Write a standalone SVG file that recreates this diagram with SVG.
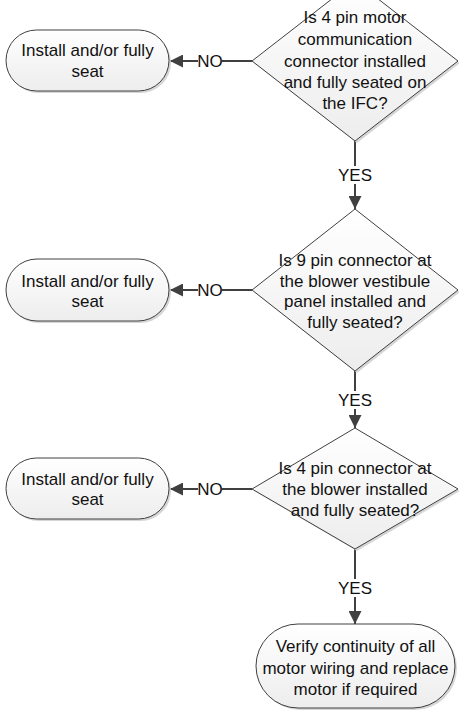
<svg xmlns="http://www.w3.org/2000/svg" width="459" height="710" viewBox="0 0 459 710">
<defs>
<linearGradient id="g" x1="0" y1="0" x2="0" y2="1">
<stop offset="0" stop-color="#ffffff"/>
<stop offset="1" stop-color="#ededed"/>
</linearGradient>
<marker id="ah" viewBox="0 0 10 10" refX="10" refY="5" markerWidth="7" markerHeight="6.5" markerUnits="strokeWidth" orient="auto">
<path d="M0,0 L10,5 L0,10 z" fill="#404040"/>
</marker>
</defs>
<style>
.shape{fill:url(#g);stroke:#404040;stroke-width:1}
.shadow{fill:#d6d6d6;stroke:none}
.t{font-family:"Liberation Sans",Arial,sans-serif;font-size:17px;fill:#111;text-anchor:middle;dominant-baseline:central}
.c{stroke:#404040;stroke-width:2;fill:none;marker-end:url(#ah)}
.lb{fill:#fff}
</style>
<g id="connectors">
<line class="c" x1="252" y1="61" x2="170" y2="61"/>
<line class="c" x1="252" y1="290" x2="170" y2="290"/>
<line class="c" x1="252" y1="489" x2="170" y2="489"/>
<line class="c" x1="355" y1="141" x2="355" y2="209"/>
<line class="c" x1="355" y1="371" x2="355" y2="428"/>
<line class="c" x1="355" y1="549" x2="355" y2="624"/>
<rect class="lb" x="198" y="52" width="24" height="18"/>
<text class="t" x="210" y="61">NO</text>
<rect class="lb" x="198" y="281" width="24" height="18"/>
<text class="t" x="210" y="290">NO</text>
<rect class="lb" x="198" y="480" width="24" height="18"/>
<text class="t" x="210" y="489">NO</text>
<rect class="lb" x="339" y="166" width="32" height="18"/>
<text class="t" x="355" y="175">YES</text>
<rect class="lb" x="339" y="391" width="32" height="18"/>
<text class="t" x="355" y="400">YES</text>
<rect class="lb" x="339" y="579" width="32" height="18"/>
<text class="t" x="355" y="588">YES</text>
</g>
<g id="d1">
<polygon class="shadow" points="357,-17 460,63 357,143 254,63"/>
<polygon class="shape" points="355,-19 458,61 355,141 252,61"/>
<text class="t" x="355" y="17">Is 4 pin motor</text>
<text class="t" x="355" y="39">communication</text>
<text class="t" x="355" y="61">connector installed</text>
<text class="t" x="355" y="82">and fully seated on</text>
<text class="t" x="355" y="103">the IFC?</text>
</g>
<g id="t1">
<rect class="shadow" x="8" y="32" width="163" height="61" rx="30.5"/>
<rect class="shape" x="6" y="30" width="163" height="61" rx="30.5"/>
<text class="t" x="87.5" y="50">Install and/or fully</text>
<text class="t" x="87.5" y="71">seat</text>
</g>
<g id="d2">
<polygon class="shadow" points="357,211 460,292 357,373 254,292"/>
<polygon class="shape" points="355,209 458,290 355,371 252,290"/>
<text class="t" x="355" y="260">Is 9 pin connector at</text>
<text class="t" x="355" y="281">the blower vestibule</text>
<text class="t" x="355" y="301">panel installed and</text>
<text class="t" x="355" y="322">fully seated?</text>
</g>
<g id="t2">
<rect class="shadow" x="8" y="261" width="163" height="62" rx="31"/>
<rect class="shape" x="6" y="259" width="163" height="62" rx="31"/>
<text class="t" x="87.5" y="281">Install and/or fully</text>
<text class="t" x="87.5" y="301">seat</text>
</g>
<g id="d3">
<polygon class="shadow" points="357,430 460,491 357,551 254,491"/>
<polygon class="shape" points="355,428 458,489 355,549 252,489"/>
<text class="t" x="355" y="468">Is 4 pin connector at</text>
<text class="t" x="355" y="489">the blower installed</text>
<text class="t" x="355" y="510">and fully seated?</text>
</g>
<g id="t3">
<rect class="shadow" x="8" y="460" width="163" height="61" rx="30.5"/>
<rect class="shape" x="6" y="458" width="163" height="61" rx="30.5"/>
<text class="t" x="87.5" y="479">Install and/or fully</text>
<text class="t" x="87.5" y="499">seat</text>
</g>
<g id="t4">
<rect class="shadow" x="258" y="626" width="199" height="84" rx="42"/>
<rect class="shape" x="256" y="624" width="199" height="84" rx="42"/>
<text class="t" x="355.5" y="646">Verify continuity of all</text>
<text class="t" x="355.5" y="668">motor wiring and replace</text>
<text class="t" x="355.5" y="689">motor if required</text>
</g>
</svg>
